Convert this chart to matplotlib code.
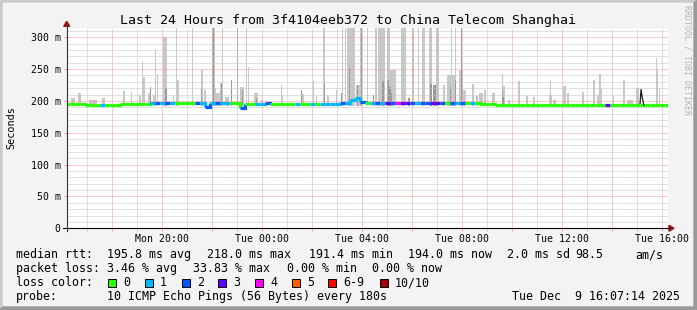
import numpy as np
import matplotlib
matplotlib.use("Agg")
import matplotlib.pyplot as plt
from matplotlib.collections import LineCollection
from matplotlib.lines import Line2D
from matplotlib.patches import Polygon, Rectangle
from matplotlib.ticker import FixedLocator, FuncFormatter

plt.rcParams["font.family"] = ["DejaVu Sans Mono"]

W, H = 697, 310

# ── data (time in hours after Mon 16:00, values in ms) ─────────────────────────
X_LIMITS = (0.176, 24.228)
X_LABEL_HOURS = [4, 8, 12, 16, 20, 24]
X_LABELS = ["Mon 20:00", "Tue 00:00", "Tue 04:00", "Tue 08:00", "Tue 12:00", "Tue 16:00"]

# median rtt, one value per 12 minutes starting 16:06
SAMPLE_START = 0.1
SAMPLE_STEP = 0.2
MEDIAN_MS = [
    195, 195, 195, 195, 194, 194, 194, 194, 194, 194,
    194, 194.5, 194.5, 194.5, 194.5, 194.5, 194.5, 196, 196, 196,
    196, 196, 196.5, 196.5, 196.5, 196.5, 196.5, 196.5, 191, 196.5,
    196.5, 196.5, 196.5, 196.5, 196.5, 189.5, 195.5, 195.5, 195.5, 195.5,
    196, 195, 195, 195, 195, 195, 195, 194.5, 194.5, 195.5,
    195.5, 195.5, 195.5, 195.5, 195.5, 196.5, 196.5, 202, 204, 199,
    196.5, 196.5, 197, 196.5, 196.5, 197, 196.5, 196.5, 196.5, 197,
    196.5, 196.5, 196.5, 197, 196.5, 196.5, 196.5, 196.5, 197, 196.5,
    196, 196, 196, 195.5, 195.5, 195.5, 194, 194, 194, 194,
    194, 194, 194, 194, 194, 194, 194, 194, 194, 194,
    194, 194, 194, 194, 194, 194, 194, 194, 194, 194,
    194, 194, 194, 194, 194, 194, 194, 194, 194, 194,
    194,
]
# packet loss class per sample (index into LOSS_COLORS)
LOSS = [
    0, 0, 0, 0, 0, 0, 0, 1, 0, 0,
    0, 0, 0, 0, 0, 0, 0, 1, 2, 1,
    2, 1, 0, 0, 0, 0, 2, 1, 2, 1,
    2, 1, 1, 0, 0, 2, 0, 0, 1, 1,
    2, 0, 0, 0, 0, 0, 1, 0, 0, 1,
    0, 1, 1, 1, 1, 2, 1, 1, 1, 2,
    0, 1, 2, 1, 3, 2, 4, 3, 3, 2,
    1, 2, 2, 3, 3, 2, 0, 2, 1, 2,
    0, 1, 0, 0, 0, 0, 0, 0, 0, 0,
    0, 0, 0, 0, 0, 0, 0, 0, 0, 0,
    0, 0, 0, 0, 0, 0, 0, 0, 3, 0,
    0, 0, 0, 0, 0, 0, 0, 0, 0, 0,
    0,
]
LOSS_LABELS = ["0", "1", "2", "3", "4", "5", "6-9", "10/10"]
LOSS_COLORS = ["#26ff00", "#00b8ff", "#0059ff", "#5e00ff", "#ff00ff",
               "#ff5e00", "#ff0000", "#a10000"]

# max-rtt excursion at ~15:06
PEAK_T = [23.11, 23.15, 23.20, 23.26]
PEAK_MS = [196, 218, 205, 193]

# smoke: outer pings (light) -- start hour, end hour, top ms (330 = off scale)
LIGHT_START = [0.35, 0.63, 1.07, 1.59, 2.42, 2.74, 3.08, 3.18, 3.24, 3.42, 3.64, 3.71, 3.78,
               4.02, 4.42, 4.53, 4.59, 5.17, 5.55, 5.66, 5.99, 6.10, 6.15, 6.31, 6.40, 6.51,
               6.73, 6.97, 7.11, 7.33, 7.44, 7.68, 7.95, 8.73, 8.79, 9.59, 10.02, 10.15,
               10.44, 10.59, 10.93, 11.17, 11.31, 11.39, 11.75, 11.91, 12.19, 12.51, 12.64,
               12.98, 13.11, 13.55, 13.99, 14.22, 14.39, 14.67, 14.95, 15.23, 15.39, 15.53,
               15.70, 15.88, 15.94, 16.03, 16.39, 16.55, 16.68, 16.88, 17.19, 17.57, 17.64,
               17.81, 18.22, 18.55, 18.82, 19.46, 19.49, 19.63, 20.02, 20.19, 20.77, 20.83,
               21.22, 21.37, 21.48, 21.55, 22.02, 22.42, 22.57, 22.95, 23.73, 23.77, 23.87]
LIGHT_END = [0.51, 0.75, 1.39, 1.71, 2.52, 2.79, 3.14, 3.21, 3.31, 3.55, 3.70, 3.75, 3.83,
             4.18, 4.48, 4.57, 4.66, 5.21, 5.62, 5.75, 6.10, 6.15, 6.31, 6.39, 6.43, 6.67,
             6.77, 7.01, 7.27, 7.37, 7.48, 7.82, 8.02, 8.77, 8.83, 9.67, 10.08, 10.19,
             10.52, 10.67, 10.97, 11.21, 11.35, 11.71, 11.95, 11.95, 12.23, 12.59, 12.91,
             13.11, 13.35, 13.75, 14.07, 14.28, 14.52, 14.79, 15.06, 15.31, 15.71, 15.57,
             15.74, 16.02, 15.98, 16.15, 16.48, 16.63, 16.82, 16.95, 17.32, 17.61, 17.72,
             17.89, 18.31, 18.62, 18.92, 19.59, 19.53, 19.75, 20.15, 20.27, 20.81, 20.87,
             21.32, 21.45, 21.54, 21.59, 22.08, 22.52, 22.81, 23.06, 23.77, 23.82, 23.91]
LIGHT_TOP = [205, 212, 201, 205, 216, 214, 209, 263, 238, 212, 209, 280, 243,
             301, 209, 330, 233, 330, 249, 217, 330, 221, 212, 228, 330, 206,
             233, 330, 222, 330, 254, 212, 201, 225, 209, 211, 231, 207,
             330, 210, 217, 330, 330, 330, 225, 330, 330, 330, 330,
             330, 248, 330, 330, 330, 330, 330, 330, 225, 241, 330,
             330, 248, 330, 217, 226, 207, 212, 217, 212, 242, 224,
             201, 231, 208, 206, 209, 233, 201, 223, 212, 215, 213,
             233, 209, 242, 218, 208, 233, 202, 221, 268, 250, 220]

# smoke: inner pings (dark)
DARK_START = [3.49, 4.11, 5.53, 6.01, 6.33, 6.73, 6.97, 7.19, 7.75, 9.53, 10.47, 11.13,
              11.47, 11.79, 11.93, 12.42, 12.79, 12.99, 13.07, 13.13, 13.81, 14.71, 14.82,
              15.49, 15.71, 15.95, 17.57, 17.61]
DARK_END = [3.53, 4.18, 5.57, 6.05, 6.37, 6.77, 7.01, 7.23, 7.79, 9.57, 10.51, 11.17,
            11.51, 11.83, 11.97, 12.48, 12.85, 13.07, 13.15, 13.19, 13.89, 14.79, 14.95,
            15.53, 15.75, 15.99, 17.61, 17.67]
DARK_TOP = [222, 220, 218, 330, 227, 233, 330, 215, 205, 217, 228, 212,
            251, 225, 330, 209, 231, 233, 222, 212, 205, 227, 225,
            222, 233, 330, 215, 206]

SMOKE_BASE = 192

TITLE = "Last 24 Hours from 3f4104eeb372 to China Telecom Shanghai"
STATS_RTT = [("median rtt:", 16), ("195.8 ms avg", 107.3), ("218.0 ms max", 207.3),
             ("191.4 ms min", 309.3), ("194.0 ms now", 407.7), ("2.0 ms sd", 506.7),
             ("98.5", 575), ("am/s", 635)]
STATS_LOSS = [("packet loss:", 16), ("3.46 % avg", 107.3), ("33.83 % max", 193.3),
              ("0.00 % min", 287.3), ("0.00 % now", 372.3)]


# ── helpers: pixel → figure fraction ──────────────────────────────────────────
def fx(px):
    return px / W


def fy(py):
    return 1 - py / H


BG = "#f3f3f3"
fig = plt.figure(figsize=(W / 100, H / 100), dpi=100)
fig.patch.set_facecolor(BG)

ax_l, ax_r, ax_t, ax_b = 66.7, 668.0, 28.3, 228.3
ax = fig.add_axes([fx(ax_l), fy(ax_b), (ax_r - ax_l) / W, (ax_b - ax_t) / H])
ax.set_facecolor("white")
ax.set_xlim(*X_LIMITS)
ax.set_ylim(0, 314)
for s in ax.spines.values():
    s.set_visible(False)

# smoke
light_w = np.array(LIGHT_END) - np.array(LIGHT_START)
ax.bar(LIGHT_START, np.array(LIGHT_TOP) - SMOKE_BASE, width=light_w, bottom=SMOKE_BASE,
       align="edge", color="#c8c8c8", linewidth=0, zorder=1)
dark_w = np.array(DARK_END) - np.array(DARK_START)
ax.bar(DARK_START, np.array(DARK_TOP) - SMOKE_BASE, width=dark_w, bottom=SMOKE_BASE,
       align="edge", color="#999999", linewidth=0, zorder=1.1)

# grid (drawn over the smoke, like rrdtool)
ax.set_axisbelow(False)
ax.xaxis.set_major_locator(FixedLocator(np.arange(2, 25, 2)))
ax.xaxis.set_minor_locator(FixedLocator(np.arange(1, 25, 2)))
ax.xaxis.set_major_formatter(FuncFormatter(
    lambda v, p: X_LABELS[X_LABEL_HOURS.index(int(round(v)))] if int(round(v)) in X_LABEL_HOURS else ""))
ax.yaxis.set_major_locator(FixedLocator(np.arange(0, 301, 50)))
ax.yaxis.set_minor_locator(FixedLocator([v for v in range(10, 311, 10) if v % 50]))
ax.yaxis.set_major_formatter(FuncFormatter(lambda v, p: "0" if v == 0 else f"{int(v)} m"))
ax.grid(which="major", color="#f09a9a", linestyle=(0, (1, 1)), linewidth=0.72)
ax.grid(which="minor", color="#c4c4c4", linestyle=(0, (1, 1)), linewidth=0.72)
ax.tick_params(which="major", length=2, width=0.72, color="#f09a9a", labelsize=7.1, pad=2.2)
ax.tick_params(which="minor", length=2, width=0.72, color="#c4c4c4")
ax.tick_params(axis="y", which="minor", length=0)

# median line coloured by loss
t = SAMPLE_START + SAMPLE_STEP * np.arange(len(MEDIAN_MS))
segs, cols = [], []
for i, m in enumerate(MEDIAN_MS):
    pts = [(t[i], m), (t[i] + SAMPLE_STEP, m)]
    if i + 1 < len(MEDIAN_MS):
        pts.append((t[i] + SAMPLE_STEP, MEDIAN_MS[i + 1]))
    segs.append(pts)
    cols.append(LOSS_COLORS[LOSS[i]])
ax.add_collection(LineCollection(segs, colors=cols, linewidths=2.3, capstyle="butt",
                                 joinstyle="miter", zorder=3))
ax.plot(PEAK_T, PEAK_MS, color="#1a1a1a", linewidth=0.9, zorder=3.5)

# axes lines + arrows
fig.add_artist(Line2D([fx(62.7), fx(670)], [fy(ax_b), fy(ax_b)], color="black", lw=0.8))
fig.add_artist(Line2D([fx(ax_l), fx(ax_l)], [fy(231), fy(25)], color="#333333", lw=0.8))
ARROW = "#9c1414"
fig.add_artist(Polygon([(fx(66.7), fy(21.3)), (fx(63.7), fy(26.3)), (fx(69.7), fy(26.3))],
                       closed=True, color=ARROW, transform=fig.transFigure))
fig.add_artist(Polygon([(fx(674), fy(ax_b)), (fx(669), fy(225.3)), (fx(669), fy(231.3))],
                       closed=True, color=ARROW, transform=fig.transFigure))

# texts
fig.text(fx(348), fy(24), TITLE, ha="center", va="baseline", fontsize=9.5)
fig.text(fx(11), fy(128), "Seconds", rotation=90, ha="center", va="center", fontsize=7.3)
fig.text(fx(687), fy(60), "RRDTOOL / TOBI OETIKER", rotation=270, ha="center", va="center",
         fontsize=6, color="#b4b4b4")

LEG = 8.4
for txt, x in STATS_RTT:
    fig.text(fx(x), fy(258.3), txt, ha="left", va="baseline", fontsize=LEG)
for txt, x in STATS_LOSS:
    fig.text(fx(x), fy(272.1), txt, ha="left", va="baseline", fontsize=LEG)
fig.text(fx(16), fy(286), "loss color:", ha="left", va="baseline", fontsize=LEG)
box_x = 108.3
for lab, col in zip(LOSS_LABELS, LOSS_COLORS):
    fig.add_artist(Rectangle((fx(box_x), fy(286.7)), 8 / W, 8 / H, facecolor=col,
                             edgecolor="black", linewidth=0.7, transform=fig.transFigure))
    fig.text(fx(box_x + 15), fy(286), lab, ha="left", va="baseline", fontsize=LEG)
    box_x += 36.7 if lab not in ("6-9",) else 51
fig.text(fx(16), fy(300), "probe:", ha="left", va="baseline", fontsize=LEG)
fig.text(fx(107.3), fy(300), "10 ICMP Echo Pings (56 Bytes) every 180s", ha="left",
         va="baseline", fontsize=LEG)
fig.text(fx(680), fy(300), "Tue Dec  9 16:07:14 2025", ha="right", va="baseline", fontsize=LEG)

# bevelled frame
fig.add_artist(Polygon([(0, 1), (1, 1), (fx(W - 2), fy(2)), (fx(2), fy(2)), (fx(2), fy(H - 2)),
                        (0, 0)], closed=True, color="#cbcbcb", transform=fig.transFigure))
fig.add_artist(Polygon([(1, 1), (1, 0), (0, 0), (fx(3), fy(H - 3)), (fx(W - 3), fy(H - 3)),
                        (fx(W - 3), fy(3))], closed=True, color="#999999",
                       transform=fig.transFigure))

fig.savefig("out.png", dpi=100, facecolor=BG)
